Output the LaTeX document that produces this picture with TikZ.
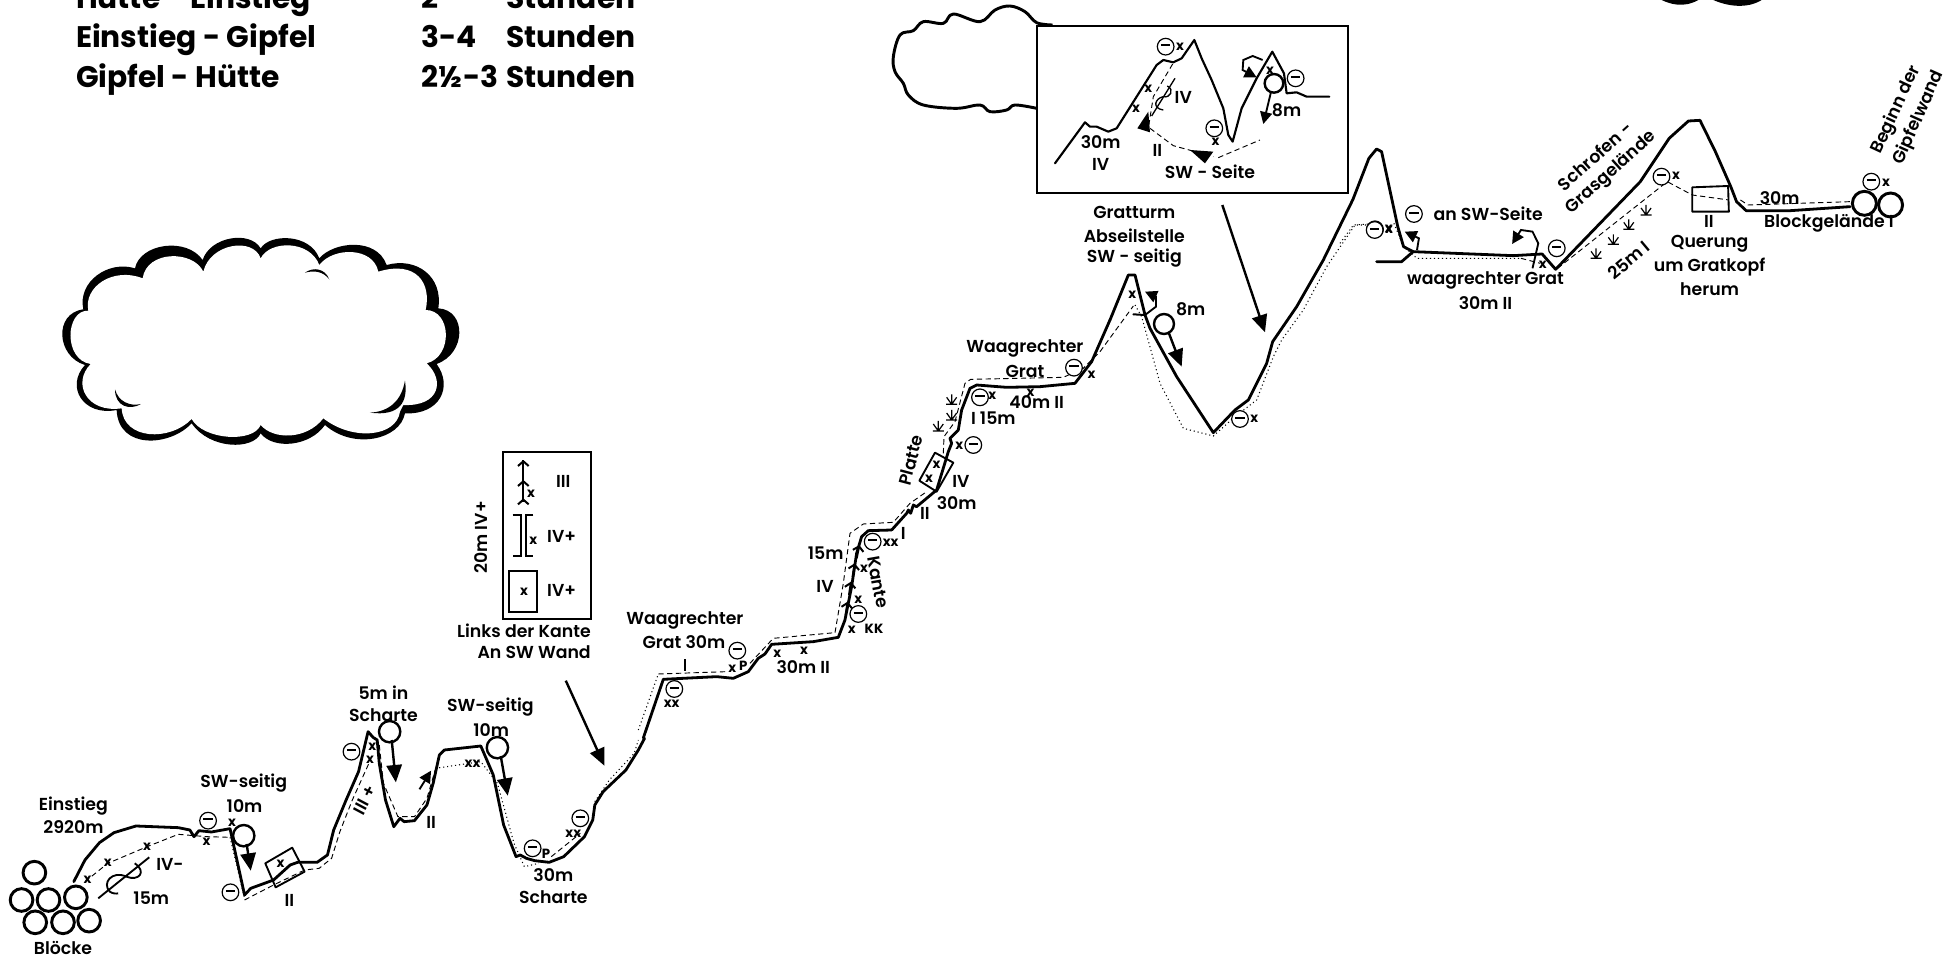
\documentclass[tikz,border=0pt]{standalone}
\usepackage{fontspec}
\setmainfont{Poppins}[UprightFont=* SemiBold,BoldFont=* Bold]
\usetikzlibrary{arrows.meta}
\newcommand{\lbf}{\fontsize{13}{15}\selectfont}
\newcommand{\xmf}{\fontsize{10}{11}\selectfont\bfseries}
\newcommand{\mc}[1]{\node[mc] at #1 {\rule[0.35ex]{7pt}{1.5pt}};}
\tikzset{
 z1/.style={shift={(0,650)},xscale=.4145,yscale=.3333},
 z2/.style={shift={(430,430)},scale=.3333},
 z3/.style={shift={(780,320)},scale=.3333},
 z4/.style={shift={(880,0)},scale=.3333},
 z5/.style={shift={(1340,50)},xscale=.385,yscale=.3333},
 z6/.style={xscale=.446,yscale=.3333},
 z7/.style={shift={(40,220)},scale=.3333},
 z8/.style={shift={(1100,200)},scale=.3333},
 z9/.style={shift={(1640,0)},scale=.3333},
 ridge/.style={line width=2.1pt,line join=round,line cap=round},
 thin2/.style={line width=1.4pt,line join=round},
 dsh/.style={line width=.7pt,dash pattern=on 4pt off 2.6pt},
 dot2/.style={line width=.8pt,dash pattern=on .8pt off 2.2pt},
 lb/.style={font=\lbf,inner sep=0,align=center},
 xm/.style={font=\xmf,inner sep=0},
 tb/.style={font=\fontsize{22.3}{26}\selectfont\bfseries,inner sep=0,anchor=base west},
 mc/.style={circle,draw,line width=.9pt,inner sep=0,minimum size=12.5pt,fill=white},
 ring/.style={circle,draw,line width=1.8pt,inner sep=0,minimum size=#1},
 ring/.default=15pt,
 fa/.style={line width=1.8pt,-{Triangle[length=13pt,width=11.5pt]}},
 fb/.style={line width=1.4pt,-{Triangle[length=9pt,width=9pt]}},
 cv/.style={line width=1.5pt,-{Straight Barb[length=3.5pt,width=8pt]}},
 tuft/.pic={\draw[line width=.9pt] (-5.5,5)--(5.5,5) (0,5)--(0,-5) (0,5)--(-5,-2) (0,5)--(5,-2);},
}
\begin{document}
\begin{tikzpicture}[x=.75pt,y=-.75pt]
\useasboundingbox (0,0) rectangle (1944,961);
\fill[white] (0,0) rectangle (1944,961);
% --- table
\begin{scope}[z6]
\node[tb] at (170,25) {Hütte - Einstieg};
\node[tb] at (945,25) {2};
\node[tb] at (1135,25) {Stunden};
\node[tb] at (170,143) {Einstieg - Gipfel};
\node[tb] at (945,143) {3-4};
\node[tb] at (1135,143) {Stunden};
\node[tb] at (170,262) {Gipfel - Hütte};
\node[tb] at (945,262) {2½-3};
\node[tb] at (1135,262) {Stunden};
\end{scope}
% --- top right cloud rests
\begin{scope}[z9]
\fill (65,0) .. controls (90,12) and (130,25) .. (175,0) -- cycle;
\fill (220,0) .. controls (260,18) and (320,28) .. (365,0) -- cycle;
\end{scope}
% --- big cloud
\begin{scope}[z7]
\fill (130,268) .. controls (112,185) and (205,120) .. (285,145)
 .. controls (300,70) and (440,50) .. (488,120)
 .. controls (510,50) and (630,30) .. (662,85)
 .. controls (690,40) and (810,40) .. (838,115)
 .. controls (880,65) and (1010,50) .. (1040,135)
 .. controls (1130,110) and (1210,170) .. (1195,265)
 .. controls (1280,270) and (1280,400) .. (1190,432)
 .. controls (1240,500) and (1200,585) .. (1095,580)
 .. controls (1080,660) and (940,690) .. (855,615)
 .. controls (810,680) and (700,690) .. (662,640)
 .. controls (640,690) and (510,690) .. (455,610)
 .. controls (390,680) and (235,690) .. (230,570)
 .. controls (130,590) and (75,500) .. (135,435)
 .. controls (50,410) and (40,280) .. (130,268) -- cycle;
\fill[white] (145,272) .. controls (130,200) and (220,140) .. (308,175)
 .. controls (320,90) and (460,90) .. (490,155)
 .. controls (510,70) and (640,50) .. (662,115)
 .. controls (690,60) and (810,60) .. (838,135)
 .. controls (880,80) and (1000,80) .. (1015,155)
 .. controls (1130,120) and (1175,190) .. (1157,270)
 .. controls (1235,270) and (1240,410) .. (1160,430)
 .. controls (1215,480) and (1200,560) .. (1090,555)
 -- (1080,575) .. controls (1070,650) and (940,665) .. (850,595)
 .. controls (800,660) and (700,660) .. (662,615)
 .. controls (640,670) and (490,660) .. (455,597)
 .. controls (390,665) and (250,660) .. (245,565)
 .. controls (140,580) and (95,490) .. (152,432)
 .. controls (70,420) and (75,270) .. (145,272) -- cycle;
\fill (225,508) .. controls (235,545) and (270,560) .. (303,552) .. controls (270,572) and (225,560) .. (225,508) -- cycle;
\fill (795,158) .. controls (820,140) and (855,145) .. (868,178) .. controls (850,155) and (825,150) .. (795,158) -- cycle;
\fill (990,578) .. controls (1050,575) and (1085,540) .. (1095,482) .. controls (1105,545) and (1080,590) .. (990,578) -- cycle;
\end{scope}
% --- segment 1
\begin{scope}[z1]
\draw[ridge] (178,695)--(205,630)--(240,578)--(275,548)--(328,528)--(430,533)--(458,540)--(468,560)--(480,542)--(510,546)--(555,536)--(590,735)--(605,715)--(660,690)--(700,645)--(718,637)--(765,637)--(790,615)--(805,540)--(835,450)--(865,365)--(888,245)--(900,262)--(910,270)--(915,340)--(930,450)--(950,530)--(965,505)--(975,515)--(1000,512)--(1030,465)--(1045,400)--(1060,315)--(1072,300)--(1160,288)--(1190,375)--(1215,525)--(1245,620)--(1255,615)--(1270,625)--(1290,632)--(1325,637)--(1360,620)--(1410,560)--(1430,510)--(1435,465)--(1455,425)--(1510,360)--(1540,300)--(1555,265);
\draw[dsh] (205,695)--(260,640)--(355,590)--(430,553)--(498,560)--(555,562);
\draw[dot2] (555,562)--(590,745);
\draw[dsh] (590,750)--(660,705)--(735,660)--(770,655)--(800,625)--(820,545)--(850,450)--(890,340);
\draw[dsh] (915,285)--(925,400)--(960,500)--(1000,500)--(1030,445)--(1050,360);
\draw[dot2] (1050,355)--(1160,335)--(1200,400)--(1240,580)--(1265,650)--(1300,640);
\draw[dsh] (1330,620)--(1400,550);
\draw[dot2] (1435,455)--(1470,390)--(1530,310)--(1540,270);
\foreach \p in {(83,668),(52,750),(117,750),(183,742),(85,817),(152,817),(215,812)} \node[ring=17pt,line width=2.2pt] at \p {};
\node[lb] at (152,895) {Blöcke};
\node[lb] at (177,467) {Einstieg};
\node[lb] at (177,530) {2920m};
\node[lb] at (588,400) {SW-seitig};
\node[lb] at (590,468) {10m};
\mc{(502,512)}
\node[xm] at (560,517) {x};
\node[xm] at (498,575) {x};
\draw[fa] (595,582)--(605,662);
\node[ring=16pt] at (588,557) {};
\node[lb] at (410,642) {IV-};
\node[lb] at (365,745) {15m};
\node[xm] at (211,688) {x};
\node[xm] at (260,637) {x};
\node[xm] at (355,590) {x};
\draw[thin2] (237,745)--(360,622);
\draw[thin2] (325,640) .. controls (355,665) and (335,695) .. (305,680) .. controls (270,660) and (245,700) .. (265,725) .. controls (270,730) and (280,732) .. (285,730);
\draw[thin2] (640,640)--(705,593)--(735,665)--(665,712)--cycle;
\node[xm] at (677,640) {x};
\node[lb] at (698,752) {II};
\mc{(556,727)}
\node[lb] at (925,127) {5m in};
\node[lb] at (925,195) {Scharte};
\draw[fa] (945,270)--(955,397);
\node[ring=16pt] at (940,245) {};
\node[xm] at (898,290) {x};
\node[xm] at (893,328) {x};
\mc{(848,305)}
\node[lb,rotate=62] at (880,450) {III +};
\draw[fb] (1012,418)--(1040,362);
\node[lb] at (1040,518) {II};
\node[lb] at (1183,172) {SW-seitig};
\node[lb] at (1185,240) {10m};
\draw[fa] (1208,318)--(1225,437);
\node[ring=16pt] at (1200,293) {};
\node[xm] at (1140,340) {xx};
\mc{(1285,595)}
\node[xm] at (1317,610) {P};
\node[lb] at (1335,675) {30m};
\node[lb] at (1335,743) {Scharte};
\mc{(1400,505)}
\node[xm] at (1383,550) {xx};
\draw[fa] (1365,92)--(1458,347);
\end{scope}
% --- segment 2
\begin{scope}[z2]
\draw[ridge] (640,924)--(700,748)--(860,740)--(910,745)--(955,725)--(985,685)--(1005,672)--(1025,643)--(1150,635)--(1225,622)--(1245,570)--(1265,470)--(1280,370)--(1295,320)--(1315,302)--(1385,300);
\draw[dot2] (625,900)--(685,732);
\draw[dsh] (685,732)--(890,725);
\draw[dsh] (960,700)--(1030,625)--(1215,608);
\draw[line width=1.7pt] (220,67) rectangle (483,567);
\draw[line width=1.5pt] (280,215)--(280,90);
\foreach \y in {90,150,205} \draw[cv] (280,\y+12)--(280,\y);
\node[xm] at (303,192) {x};
\node[lb] at (400,155) {III};
\draw[line width=1.4pt] (248,255)--(272,255)--(272,377)--(248,377);
\draw[line width=1.4pt] (310,255)--(288,255)--(288,377)--(310,377);
\node[xm] at (310,332) {x};
\node[lb] at (395,320) {IV+};
\draw[line width=1.7pt] (238,423) rectangle (322,547);
\node[xm] at (282,485) {x};
\node[lb] at (395,482) {IV+};
\node[lb,rotate=90] at (152,322) {20m IV+};
\node[lb,anchor=east] at (483,603) {Links der Kante};
\node[lb,anchor=east] at (483,668) {An SW Wand};
\node[lb] at (765,572) {Waagrechter};
\node[lb] at (762,637) {Grat 30m};
\mc{(922,662)}
\draw[line width=1.2pt] (765,688)--(765,724);
\node[xm] at (907,717) {x};
\node[xm] at (940,707) {P};
\mc{(733,777)}
\node[xm] at (725,820) {xx};
\node[xm] at (1042,672) {x};
\node[xm] at (1122,662) {x};
\node[lb] at (1120,712) {30m II};
\end{scope}
% --- segment 3
\begin{scope}[z3]
\draw[ridge] (335,630)--(380,580)--(385,570)--(392,580)--(400,555)--(410,560)--(470,510)--(505,395)--(515,370)--(510,355)--(535,330)--(545,270)--(570,205)--(590,195)--(680,202)--(780,200)--(885,190)--(935,125)--(990,0);
\draw[dsh] (165,938)--(190,790)--(210,640)--(250,612)--(340,607)--(390,550)--(440,515);
\draw[dsh] (490,400)--(492,350)--(525,305)--(555,190)--(572,178)--(850,172)--(910,145)--(960,95);
\draw[thin2] (465,398)--(520,428)--(470,515)--(418,482)--cycle;
\node[xm] at (470,435) {x};
\node[xm] at (447,475) {x};
\node[lb] at (735,85) {Waagrechter};
\node[lb] at (735,155) {Grat};
\node[lb] at (770,245) {40m II};
\node[xm] at (752,217) {x};
\mc{(882,143)}
\node[xm] at (935,165) {x};
\node[lb,rotate=75] at (392,420) {Platte};
\node[lb] at (543,483) {IV};
\node[lb] at (530,550) {30m};
\node[lb] at (435,580) {II};
\node[lb] at (370,640) {I};
\mc{(278,665)}
\node[xm] at (332,668) {xx};
\node[lb] at (137,700) {15m};
\node[lb] at (135,798) {IV};
\node[lb,rotate=-80] at (295,787) {Kante};
\node[xm] at (252,745) {x};
\node[xm] at (235,840) {x};
\mc{(235,882)}
\node[xm] at (215,930) {x};
\node[xm] at (282,927) {KK};
\mc{(600,232)}
\node[xm] at (637,228) {x};
\node[lb] at (640,295) {I 15m};
\node[xm] at (538,377) {x};
\mc{(580,375)}
\pic at (515,238) {tuft};
\pic at (515,285) {tuft};
\pic at (475,318) {tuft};
\draw[cv] (197,885)--(203,845);
\draw[cv] (207,825)--(213,785);
\draw[cv] (218,770)--(224,730);
\draw[cv] (230,715)--(238,675);
\end{scope}
% --- segment 4 (Gratturm)
\begin{scope}[z8]
\draw[ridge] (30,360)--(85,225)--(105,225)--(135,345)--(150,385)--(230,530)--(340,698)--(405,630)--(445,600)--(500,490)--(518,425)--(590,320)--(670,180)--(758,0);
\draw[dsh] (0,455)--(100,318);
\draw[dot2] (105,315)--(125,350)--(180,550)--(250,685)--(340,708)--(405,650)--(470,600)--(520,470)--(545,420)--(610,330)--(680,200)--(765,75)--(800,75);
\draw[ridge,line width=1.5pt] (100,343)--(135,345);
\draw[fb] (135,345)--(168,320)--(168,290)--(135,275);
\draw[fa] (205,395)--(245,500);
\node[ring=15pt] at (192,372) {};
\node[lb] at (272,328) {8m};
\node[xm] at (97,285) {x};
\mc{(420,657)}
\node[xm] at (463,657) {x};
\draw[fa] (367,15)--(495,397);
\mc{(825,88)}
\node[xm] at (867,88) {x};
\end{scope}
% --- cloud 2 and inset
\begin{scope}[z4]
\draw[line width=2.2pt,line join=round] plot[smooth,tension=.6] coordinates {(470,325)(405,315)(380,330)(330,335)(300,315)(230,325)(130,315)(85,285)(70,250)(45,215)(40,170)(60,105)(100,92)(130,65)(190,70)(220,42)(300,65)(345,30)(390,18)(435,35)(470,68)(518,75)};
\draw[line width=1.7pt,fill=white] (472,77) rectangle (1403,578);
\draw[ridge,line width=1.6pt] (525,490)--(615,367)--(630,380)--(650,380)--(685,395)--(710,385)--(830,195)--(850,180)--(880,187)--(905,175)--(943,120)--(965,175)--(995,240)--(1030,325)--(1045,405)--(1058,425)--(1085,325)--(1130,235)--(1177,155)--(1212,220)--(1220,280)--(1250,277)--(1280,290)--(1320,290)--(1348,290);
\node[xm] at (900,140) {x};
\mc{(857,140)}
\node[xm] at (805,267) {x};
\node[xm] at (768,325) {x};
\node[lb] at (910,292) {IV};
\node[lb] at (662,425) {30m};
\node[lb] at (662,492) {IV};
\node[lb] at (832,450) {II};
\node[lb] at (990,515) {SW - Seite};
\mc{(1003,385)}
\node[xm] at (1007,425) {x};
\node[xm] at (1170,212) {x};
\mc{(1247,235)}
\node[lb] at (1220,332) {8m};
\draw[dsh] (878,192)--(820,290)--(805,385);
\draw[dsh] (810,385)--(880,437)--(1000,470);
\draw[dsh] (1015,473)--(1140,420);
\fill (805,335)--(772,385)--(810,397)--cycle;
\fill (930,450)--(1000,455)--(975,490)--cycle;
\draw[line width=1pt] (885,235)--(815,348);
\draw[line width=1pt] (862,258) .. controls (885,270) and (870,295) .. (850,290) .. controls (825,295) and (815,325) .. (850,330);
\draw[fb] (1175,268)--(1150,372);
\node[ring=14pt,fill=white] at (1182,250) {};
\draw[fb] (1148,180)--(1118,168)--(1090,180)--(1088,210)--(1130,232);
\node[lb] at (763,637) {Gratturm};
\node[lb] at (763,707) {Abseilstelle};
\node[lb] at (763,775) {SW - seitig};
\end{scope}
% --- segment 5
\begin{scope}[z5]
\draw[ridge] (33,450)--(75,325)--(95,297)--(108,305)--(150,530)--(165,590)--(190,605)--(450,617)--(525,612)--(560,658)--(780,395)--(855,265)--(905,213)--(935,211)--(975,305)--(1015,410)--(1030,455)--(1055,482)--(1170,482)--(1325,470);
\draw[ridge] (95,635)--(160,635)--(190,605);
\draw[dot2] (0,580)--(35,525)--(75,522);
\draw[dot2] (140,520)--(165,590)--(200,625)--(470,625);
\draw[dsh] (470,625)--(520,640);
\draw[dsh] (565,655)--(850,395)--(915,435)--(1010,450);
\draw[dsh] (1040,450)--(1060,465)--(1325,455);
\mc{(90,540)}
\node[xm] at (127,537) {x};
\mc{(192,492)}
\node[lb] at (385,492) {an SW-Seite};
\draw[fb] (200,600)--(205,565)--(168,545);
\draw[fb] (500,655)--(515,580)--(500,545)--(470,540)--(447,582);
\mc{(563,595)}
\node[xm] at (527,645) {x};
\node[lb] at (378,690) {waagrechter Grat};
\node[lb] at (378,758) {30m II};
\node[lb,rotate=42] at (662,318) {Schrofen -};
\node[lb,rotate=42] at (705,368) {Grasgelände};
\node[lb,rotate=40] at (750,630) {25m I};
\pic at (795,480) {tuft};
\pic at (750,523) {tuft};
\pic at (710,568) {tuft};
\pic at (665,610) {tuft};
\draw[thin2] (915,412)--(1008,408)--(1010,485)--(915,485)--cycle;
\node[lb] at (958,515) {II};
\node[lb] at (960,582) {Querung};
\node[lb] at (960,650) {um Gratkopf};
\node[lb] at (960,718) {herum};
\node[lb] at (1142,443) {30m};
\node[lb] at (1270,520) {Blockgelände I};
\mc{(1380,395)}
\node[xm] at (1418,397) {x};
\mc{(835,380)}
\node[xm] at (873,378) {x};
\node[ring=18pt,line width=2.2pt] at (1362,460) {};
\node[ring=18pt,line width=2.2pt] at (1430,465) {};
\node[lb,rotate=65] at (1445,180) {Beginn der};
\node[lb,rotate=66] at (1503,203) {Gipfelwand};
\end{scope}
\end{tikzpicture}
\end{document}
